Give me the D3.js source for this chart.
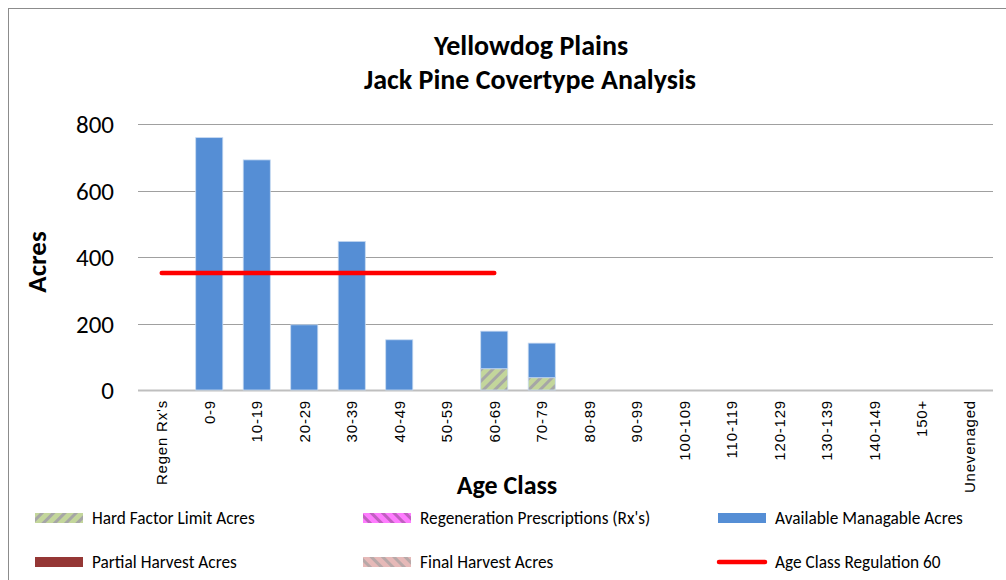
<!DOCTYPE html>
<html>
<head>
<meta charset="utf-8">
<script src="https://cdn.jsdelivr.net/npm/d3@7"></script>
<style>
  body { margin: 0; background: #fff; }
  text { fill: #000; }
</style>
</head>
<body>
<div id="chart"></div>
<script>
// age classes on the x axis
var categories = ["Regen Rx's", "0-9", "10-19", "20-29", "30-39", "40-49", "50-59", "60-69", "70-79",
    "80-89", "90-99", "100-109", "110-119", "120-129", "130-139", "140-149", "150+", "Unevenaged"];
// stacked series
var hardFactor   = [0, 0, 0, 0, 0, 0, 0, 64, 37, 0, 0, 0, 0, 0, 0, 0, 0, 0];
var regenRx      = [0, 0, 0, 0, 0, 0, 0, 0, 0, 0, 0, 0, 0, 0, 0, 0, 0, 0];
var available    = [0, 759, 692, 196, 447, 151, 0, 113, 104, 0, 0, 0, 0, 0, 0, 0, 0, 0];
var partialHarv  = [0, 0, 0, 0, 0, 0, 0, 0, 0, 0, 0, 0, 0, 0, 0, 0, 0, 0];
var finalHarv    = [0, 0, 0, 0, 0, 0, 0, 0, 0, 0, 0, 0, 0, 0, 0, 0, 0, 0];
// regulation line, drawn from Regen Rx's to 60-69
var regulation   = [352, 352, 352, 352, 352, 352, 352, 352, null, null, null, null, null, null, null, null, null, null];
var yTicks = [0, 200, 400, 600, 800];

var width = 1006, height = 580;
var margin = {left: 138, right: 13, top: 124, bottom: 190};
var calibri = "Carlito, 'Liberation Sans Narrow', 'Open Sans', sans-serif";

var svg = d3.select("#chart").append("svg")
    .attr("width", width)
    .attr("height", height);

// outer chart border
svg.append("rect")
    .attr("x", 8.5).attr("y", 8.5)
    .attr("width", 1010).attr("height", 600)
    .attr("fill", "none").attr("stroke", "#8c8c8c");

// hatch patterns
var defs = svg.append("defs");
function hatch(id, bg, fg, dir) {
    var p = defs.append("pattern")
        .attr("id", id)
        .attr("patternUnits", "userSpaceOnUse")
        .attr("width", 8).attr("height", 8)
        .attr("patternTransform", "rotate(" + (dir > 0 ? 45 : -45) + ")");
    p.append("rect").attr("width", 8).attr("height", 8).attr("fill", bg);
    p.append("rect").attr("width", 3).attr("height", 8).attr("fill", fg);
}
hatch("hardPat", "#c3d69b", "#a6a6a6", 1);
hatch("regenPat", "#ff7cff", "#c060c0", -1);
hatch("finalPat", "#e6b9b8", "#b8a8a8", -1);

var series = [
    {name: "Hard Factor Limit Acres", values: hardFactor, fill: "url(#hardPat)"},
    {name: "Regeneration Prescriptions (Rx's)", values: regenRx, fill: "url(#regenPat)"},
    {name: "Available Managable Acres", values: available, fill: "#558ed5"},
    {name: "Partial Harvest Acres", values: partialHarv, fill: "#953735"},
    {name: "Final Harvest Acres", values: finalHarv, fill: "url(#finalPat)"}
];

var x = d3.scaleBand()
    .domain(categories)
    .range([margin.left, width - margin.right])
    .paddingInner(0.43)
    .paddingOuter(0.215);

var y = d3.scaleLinear()
    .domain([0, 800])
    .range([height - margin.bottom, margin.top]);

// gridlines
svg.append("g")
    .selectAll("line")
    .data(yTicks)
    .enter().append("line")
        .attr("x1", margin.left).attr("x2", width - margin.right)
        .attr("y1", function(d) { return Math.round(y(d)) + 0.5; })
        .attr("y2", function(d) { return Math.round(y(d)) + 0.5; })
        .attr("stroke", function(d) { return d === 0 ? "#bfbfbf" : "#a0a0a0"; })
        .attr("stroke-width", function(d) { return d === 0 ? 2 : 1.2; });

// y tick labels
svg.append("g")
    .selectAll("text")
    .data(yTicks)
    .enter().append("text")
        .attr("x", 114)
        .attr("y", function(d) { return y(d); })
        .attr("dy", "0.36em")
        .attr("text-anchor", "end")
        .style("font-family", calibri)
        .style("font-size", "25px")
        .text(function(d) { return d; });

// stack the series
var rows = categories.map(function(c, i) {
    var r = {cat: c};
    series.forEach(function(s) { r[s.name] = s.values[i]; });
    return r;
});
var stacked = d3.stack().keys(series.map(function(s) { return s.name; }))(rows);

var bars = svg.append("g");
stacked.forEach(function(layer, k) {
    bars.append("g")
        .selectAll("rect")
        .data(layer.filter(function(d) { return d[1] - d[0] > 0; }))
        .enter().append("rect")
            .attr("x", function(d) { return x(d.data.cat); })
            .attr("width", x.bandwidth())
            .attr("y", function(d) { return y(d[1]); })
            .attr("height", function(d) { return y(d[0]) - y(d[1]); })
            .attr("fill", series[k].fill)
            .attr("stroke", "#c6d9f1")
            .attr("stroke-width", 0.8);
});

// regulation line
var line = d3.line()
    .defined(function(d) { return d.v !== null; })
    .x(function(d) { return x(d.cat) + x.bandwidth() / 2; })
    .y(function(d) { return y(d.v); });
svg.append("path")
    .datum(categories.map(function(c, i) { return {cat: c, v: regulation[i]}; }))
    .attr("d", line)
    .attr("fill", "none")
    .attr("stroke", "#ff0000")
    .attr("stroke-width", 4.5)
    .attr("stroke-linecap", "round");

// x tick labels, rotated
svg.append("g")
    .selectAll("text")
    .data(categories)
    .enter().append("text")
        .attr("transform", function(d) {
            return "translate(" + (x(d) + x.bandwidth() / 2 + 5.5) + ",400) rotate(-90)";
        })
        .attr("text-anchor", "end")
        .style("font-family", "'Liberation Sans', Arial, sans-serif")
        .style("font-size", "15px")
        .style("letter-spacing", "0.8px")
        .text(function(d) { return d; });

// titles
svg.append("text")
    .attr("x", 531).attr("y", 55)
    .attr("text-anchor", "middle")
    .style("font-family", calibri).style("font-size", "28px").style("font-weight", "bold")
    .text("Yellowdog Plains");
svg.append("text")
    .attr("x", 530).attr("y", 89)
    .attr("text-anchor", "middle")
    .style("font-family", calibri).style("font-size", "28px").style("font-weight", "bold")
    .text("Jack Pine Covertype Analysis");

// axis titles
svg.append("text")
    .attr("transform", "translate(46,262) rotate(-90)")
    .attr("text-anchor", "middle")
    .style("font-family", calibri).style("font-size", "27px").style("font-weight", "bold")
    .text("Acres");
svg.append("text")
    .attr("x", 507).attr("y", 494)
    .attr("text-anchor", "middle")
    .style("font-family", calibri).style("font-size", "26px").style("font-weight", "bold")
    .text("Age Class");

// legend
var legendItems = [
    {name: series[0].name, fill: series[0].fill, x: 35, y: 518},
    {name: series[1].name, fill: series[1].fill, x: 363, y: 518},
    {name: series[2].name, fill: series[2].fill, x: 718, y: 518},
    {name: series[3].name, fill: series[3].fill, x: 35, y: 562},
    {name: series[4].name, fill: series[4].fill, x: 363, y: 562},
    {name: "Age Class Regulation 60", line: true, x: 718, y: 562}
];
var leg = svg.append("g").selectAll("g")
    .data(legendItems)
    .enter().append("g")
        .attr("transform", function(d) { return "translate(" + d.x + "," + d.y + ")"; });
leg.each(function(d) {
    var g = d3.select(this);
    if (d.line) {
        g.append("line")
            .attr("x1", 1).attr("x2", 47).attr("y1", 0).attr("y2", 0)
            .attr("stroke", "#ff0000").attr("stroke-width", 4.5)
            .attr("stroke-linecap", "round");
    } else {
        g.append("rect")
            .attr("x", 0).attr("y", -5)
            .attr("width", 48).attr("height", 10)
            .attr("fill", d.fill);
    }
});
leg.append("text")
    .attr("x", 57)
    .attr("dy", "0.36em")
    .style("font-family", calibri)
    .style("font-size", "17.3px")
    .text(function(d) { return d.name; });
</script>
</body>
</html>
